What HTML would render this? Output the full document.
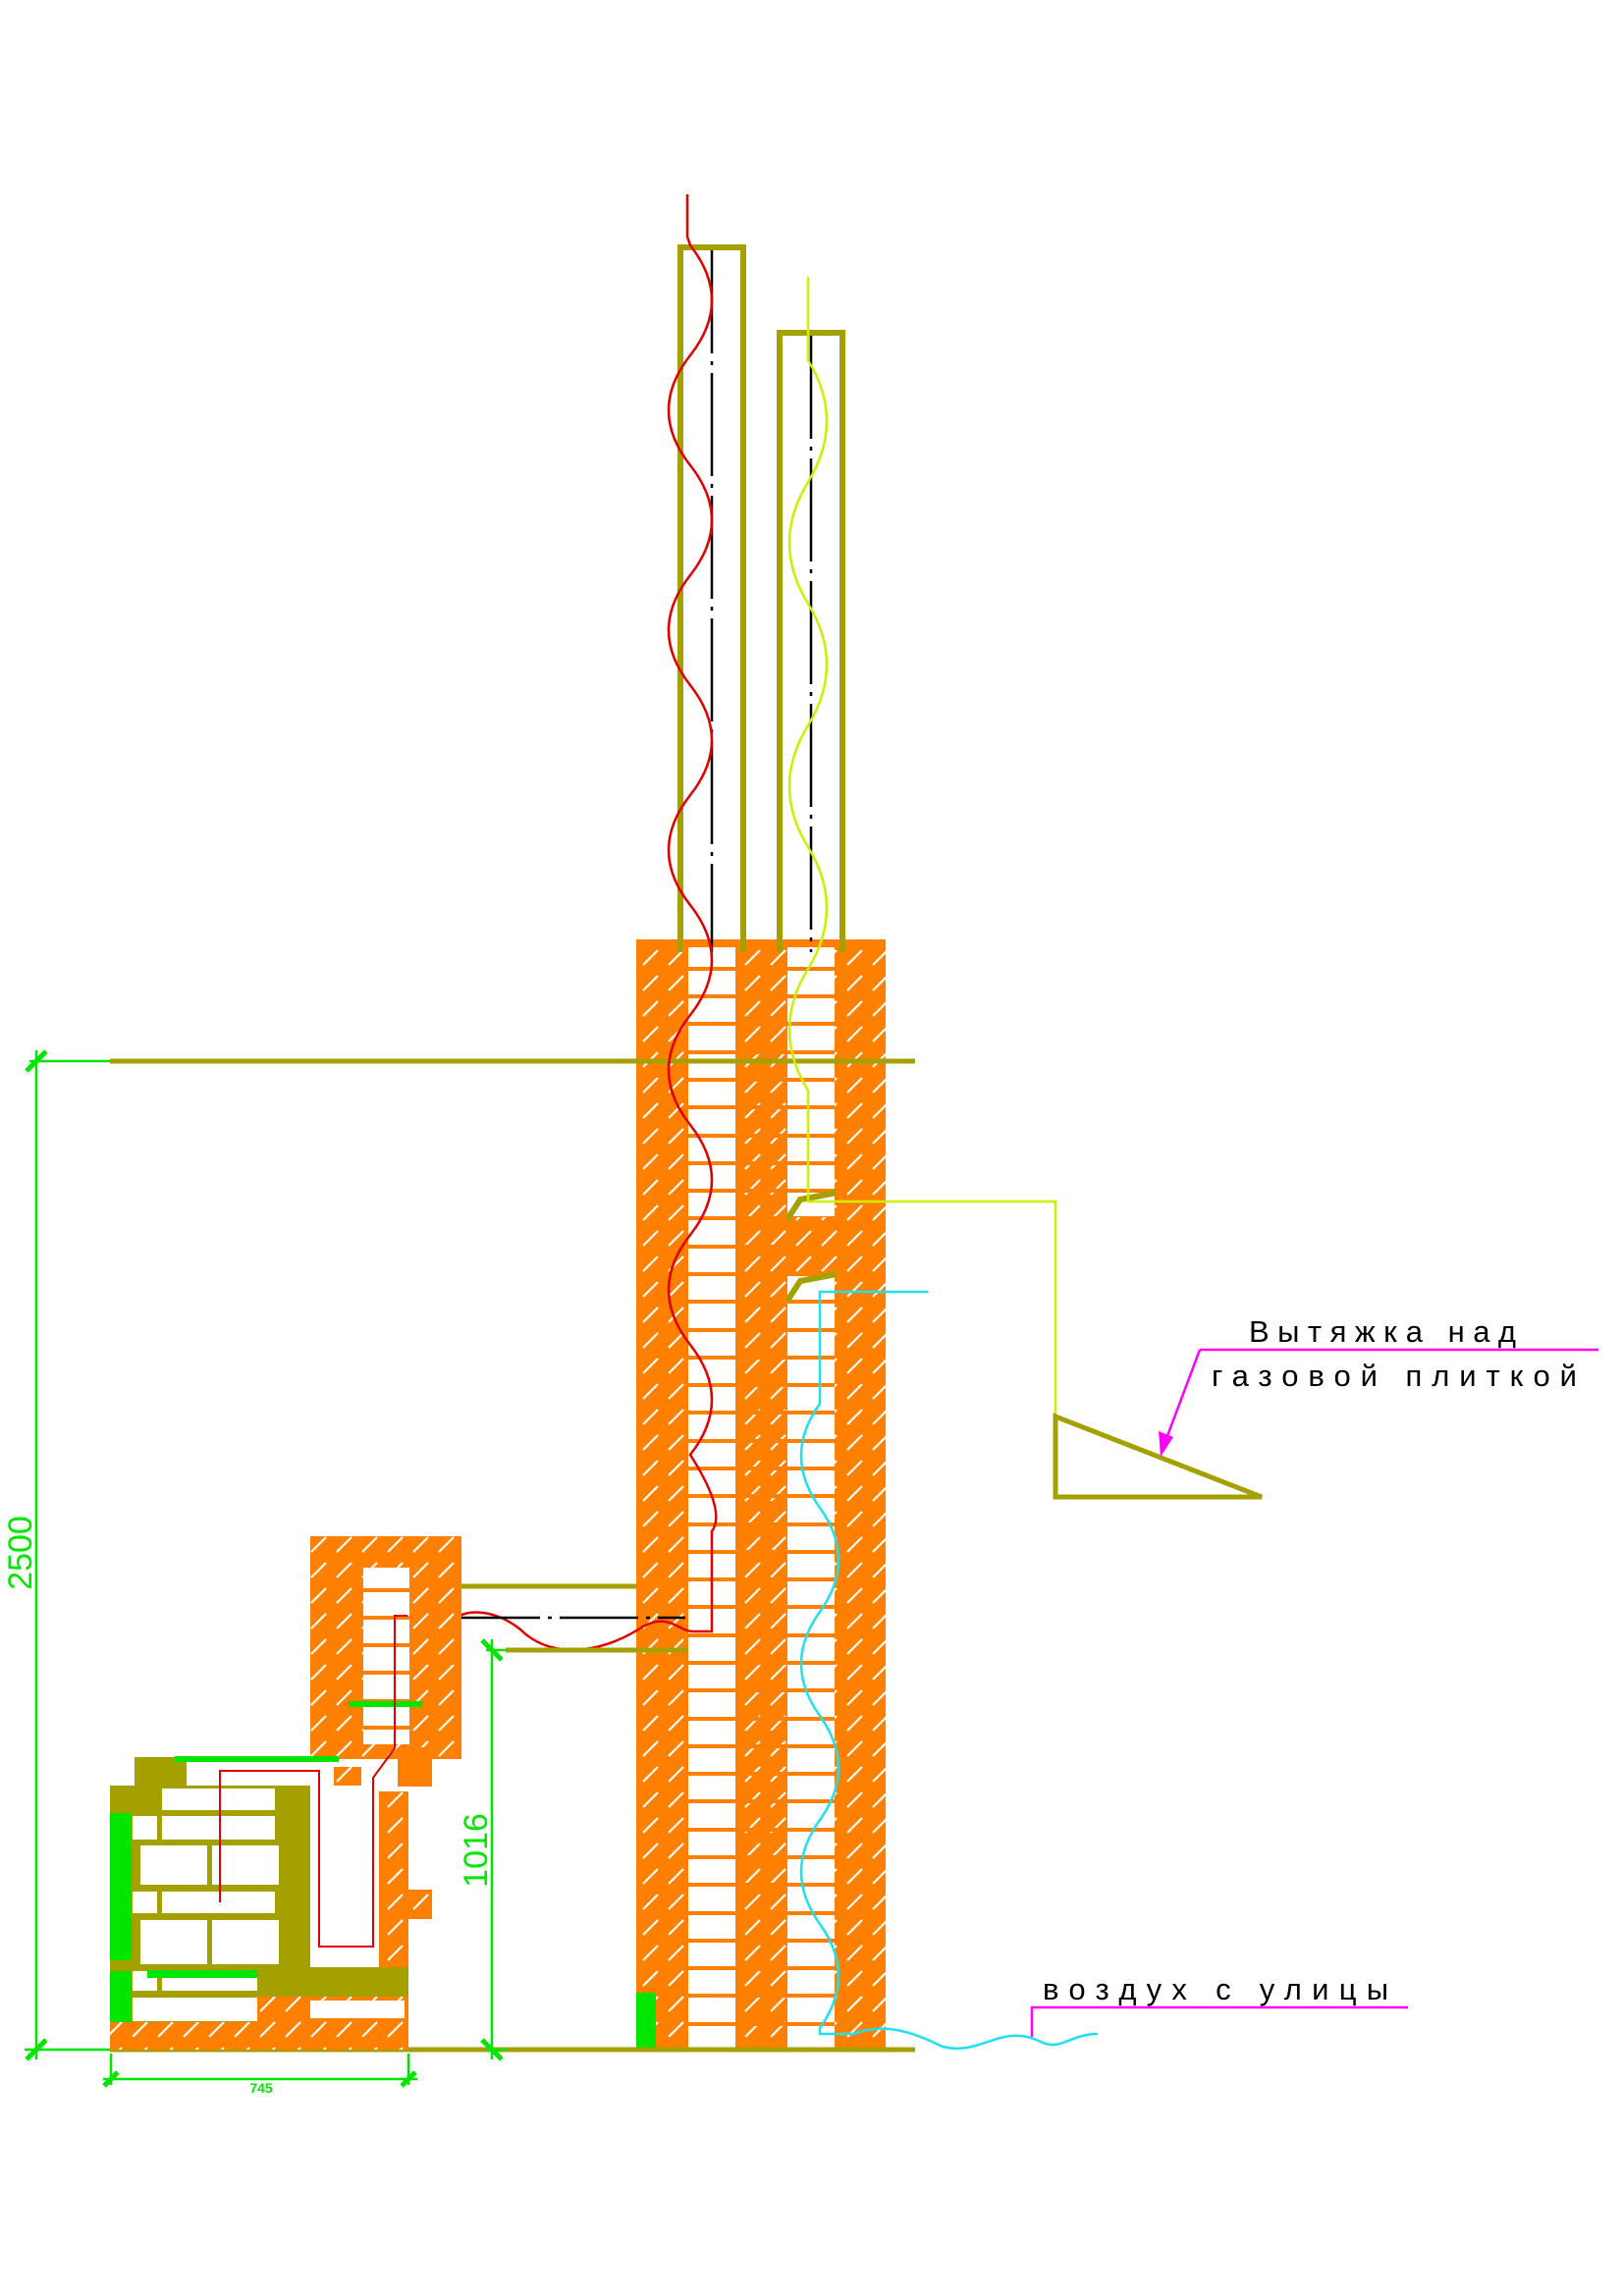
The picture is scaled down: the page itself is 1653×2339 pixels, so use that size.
<!DOCTYPE html>
<html><head><meta charset="utf-8"><style>html,body{margin:0;padding:0;background:#fff}svg{display:block}</style></head>
<body>
<svg width="1653" height="2339" viewBox="0 0 1653 2339" xmlns="http://www.w3.org/2000/svg">
<defs>
<pattern id="h" width="26" height="26" patternUnits="userSpaceOnUse">
<rect width="26" height="26" fill="#ff8000"/>
<line x1="5" y1="21" x2="20" y2="6" stroke="#fff" stroke-width="2.2"/>
</pattern>
</defs>

<!-- chimney -->
<rect x="648" y="957" width="53" height="1131" fill="url(#h)"/>
<rect x="749" y="957" width="53" height="1131" fill="url(#h)"/>
<rect x="850" y="957" width="52" height="1131" fill="url(#h)"/>
<rect x="701" y="957" width="48" height="8" fill="#ff8000"/>
<rect x="802" y="957" width="48" height="8" fill="#ff8000"/>
<g stroke="#ff8000" stroke-width="4">
<path d="M701 987H850M701 1015H850M701 1043H850M701 1072H850M701 1100H850M701 1128H850M701 1157H850M701 1185H850M701 1213H850M701 1241H850M701 1270H850M701 1298H850M701 1326H850M701 1355H850M701 1383H850M701 1411H850M701 1439H850M701 1468H850M701 1496H850M701 1524H850M701 1553H850M701 1581H850M701 1609H850M701 1637H850M701 1666H850M701 1694H850M701 1722H850M701 1751H850M701 1779H850M701 1807H850M701 1835H850M701 1864H850M701 1892H850M701 1920H850M701 1949H850M701 1977H850M701 2005H850M701 2033H850M701 2062H850"/>
</g>
<rect x="802" y="1240" width="48" height="60" fill="url(#h)"/>
<path d="M802 1242 L815 1222 L852 1215 M802 1325 L815 1305 L852 1298" stroke="#a3a000" stroke-width="6" fill="none"/>
<rect x="648" y="2030" width="20" height="57" fill="#00e600"/>

<!-- pipes -->
<g fill="none" stroke="#a3a000" stroke-width="6">
<path d="M693 970 V252 H757 V970"/>
<path d="M794 970 V339 H858 V970"/>
</g>
<g stroke="#000" stroke-width="2.5" stroke-dasharray="105 8 4 8">
<line x1="725" y1="255" x2="725" y2="970"/>
<line x1="826" y1="342" x2="826" y2="970"/>
</g>

<!-- horizontal lines -->
<line x1="112" y1="1081" x2="932" y2="1081" stroke="#a3a000" stroke-width="5"/>
<line x1="112" y1="2088" x2="932" y2="2088" stroke="#a3a000" stroke-width="5"/>

<!-- waves -->
<path d="M700 198 V241 L703 250 q44 56 0 112 t0 112 t0 112 t0 112 t0 112 t0 112 t0 112 t0 112 t0 112 t0 112 t0 112 Q740 1540 725 1560 V1662 H706 C690 1662 680 1640 650 1660 C610 1685 560 1690 530 1660 C505 1640 480 1640 468 1646" fill="none" stroke="#e00000" stroke-width="2.5"/>
<path d="M823 282 V367 q38 62 0 124 t0 124 t0 124 t0 124 t0 124 t0 124 L823 1120 V1224 H1075 V1441" fill="none" stroke="#ccf000" stroke-width="2.5"/>
<path d="M945 1316 H835 V1430 q-38 53 0 106 t0 106 t0 106 t0 106 t0 106 t0 106 L835 2072 H870 C900 2060 930 2070 960 2085 C1000 2095 1020 2060 1060 2080 C1080 2090 1090 2072 1118 2072" fill="none" stroke="#20e0f0" stroke-width="2.5"/>

<!-- hood -->
<path d="M1075 1443 V1525 H1285 Z" fill="none" stroke="#a3a000" stroke-width="5"/>

<!-- labels -->
<line x1="1222" y1="1375" x2="1628" y2="1375" stroke="#ff00ff" stroke-width="2.5"/>
<line x1="1222" y1="1375" x2="1187" y2="1468" stroke="#ff00ff" stroke-width="2.5"/>
<path d="M1182 1484 L1180 1458 L1195 1464 Z" fill="#ff00ff"/>
<g font-family="Liberation Sans, sans-serif" font-size="31" fill="#000">
<text x="1272" y="1367" textLength="272" lengthAdjust="spacing">Вытяжка над</text>
<text x="1234" y="1412" textLength="372" lengthAdjust="spacing">газовой плиткой</text>
<text x="1062" y="2037" textLength="352" lengthAdjust="spacing">воздух с улицы</text>
</g>
<path d="M1051 2075 V2045 H1434" fill="none" stroke="#ff00ff" stroke-width="2.5"/>

<!-- connection pipe -->
<line x1="470" y1="1616" x2="648" y2="1616" stroke="#a3a000" stroke-width="5"/>
<line x1="515" y1="1681" x2="700" y2="1681" stroke="#a3a000" stroke-width="5"/>
<line x1="370" y1="1648" x2="698" y2="1648" stroke="#000" stroke-width="2.5" stroke-dasharray="80 8 4 8"/>

<!-- stove upper block -->
<rect x="316" y="1565" width="154" height="227" fill="url(#h)"/>
<rect x="370" y="1597" width="47" height="180" fill="#fff"/>
<g stroke="#ff8000" stroke-width="4"><path d="M370 1620H417M370 1648H417M370 1676H417M370 1704H417M370 1733H417M370 1760H417"/></g>
<rect x="355" y="1733" width="75" height="6" fill="#00e600"/>
<rect x="405" y="1780" width="35" height="40" fill="#ff8000"/>
<!-- flues -->
<rect x="337" y="1800" width="31" height="155" fill="url(#h)"/>
<rect x="386" y="1825" width="30" height="180" fill="url(#h)"/>
<rect x="416" y="1925" width="24" height="30" fill="url(#h)"/>
<!-- firebox -->
<rect x="112" y="1819" width="204" height="241" fill="#a3a000"/>
<rect x="137" y="1790" width="53" height="30" fill="#a3a000"/>
<rect x="190" y="1800" width="150" height="19" fill="#fff"/>
<rect x="178" y="1789" width="167" height="6" fill="#00e600"/>
<g fill="#fff">
<rect x="165" y="1822" width="115" height="22"/>
<rect x="135" y="1850" width="25" height="24"/><rect x="165" y="1850" width="115" height="24"/>
<rect x="143" y="1880" width="68" height="40"/><rect x="216" y="1880" width="68" height="40"/>
<rect x="135" y="1927" width="25" height="22"/><rect x="165" y="1927" width="115" height="22"/>
<rect x="143" y="1956" width="68" height="45"/><rect x="216" y="1956" width="68" height="45"/>
<rect x="135" y="2008" width="25" height="20"/><rect x="165" y="2008" width="97" height="20"/>
<rect x="135" y="2035" width="127" height="24"/>
<rect x="316" y="1819" width="70" height="185"/>
</g>
<rect x="112" y="1847" width="22" height="150" fill="#00e600"/>
<rect x="112" y="2008" width="22" height="52" fill="#00e600"/>
<rect x="150" y="2007" width="127" height="8" fill="#00e600"/>
<rect x="262" y="2004" width="154" height="30" fill="#a3a000"/>
<rect x="262" y="2034" width="154" height="26" fill="url(#h)"/>
<rect x="316" y="2038" width="96" height="18" fill="#fff"/>
<rect x="112" y="2060" width="304" height="28" fill="url(#h)"/>
<path d="M415 1646 H402 V1781 L380 1811 V1983 H325 V1804 H224 V1938" fill="none" stroke="#e00000" stroke-width="2"/>

<!-- dimensions -->
<g stroke="#00e600" stroke-width="2.5" fill="none">
<line x1="37" y1="1070" x2="37" y2="2098"/>
<line x1="30" y1="1081" x2="112" y2="1081"/>
<line x1="25" y1="2088" x2="112" y2="2088"/>
<line x1="501" y1="1670" x2="501" y2="2098"/>
<line x1="495" y1="1681" x2="515" y2="1681"/>
<line x1="495" y1="2088" x2="515" y2="2088"/>
<line x1="105" y1="2118" x2="425" y2="2118"/>
<line x1="113" y1="2092" x2="113" y2="2124"/>
<line x1="416" y1="2092" x2="416" y2="2124"/>
</g>
<g stroke="#00e600" stroke-width="5">
<line x1="27" y1="1091" x2="47" y2="1071"/>
<line x1="27" y1="2098" x2="47" y2="2078"/>
<line x1="491" y1="1671" x2="511" y2="1691"/>
<line x1="491" y1="2078" x2="511" y2="2098"/>
<line x1="106" y1="2125" x2="120" y2="2111"/>
<line x1="409" y1="2125" x2="423" y2="2111"/>
</g>
<g font-family="Liberation Sans, sans-serif" fill="#00e600">
<text transform="translate(32,1582) rotate(-90)" font-size="34" text-anchor="middle">2500</text>
<text transform="translate(496,1885) rotate(-90)" font-size="34" text-anchor="middle">1016</text>
<text x="266" y="2132" font-size="14" text-anchor="middle" font-weight="bold">745</text>
</g>
</svg>
</body></html>
